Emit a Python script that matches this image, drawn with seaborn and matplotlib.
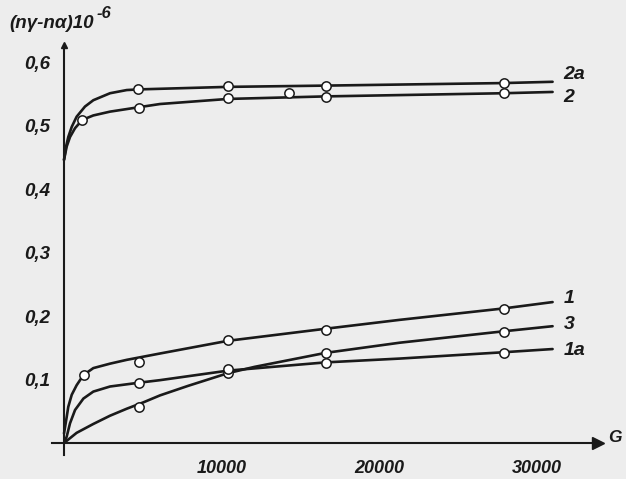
import numpy as np
import pandas as pd
import matplotlib
matplotlib.use("Agg")
import matplotlib.pyplot as plt
import seaborn as sns

# Smooth curves: G (field) and (n_gamma - n_alpha) * 1e6
G_2A = [0, 130, 270, 490, 800, 1330, 1860, 2920, 3980, 4700, 10400, 16600, 27900, 31000]
V_2A = [0.446, 0.467, 0.482, 0.498, 0.514, 0.530, 0.540, 0.551, 0.556, 0.557,
        0.561, 0.563, 0.567, 0.569]

G_2 = [0, 170, 380, 700, 1160, 1860, 2920, 4760, 6090, 10400, 16600, 27900, 31000]
V_2 = [0.446, 0.467, 0.482, 0.496, 0.509, 0.516, 0.522, 0.529, 0.534, 0.542,
       0.546, 0.551, 0.553]

G_1 = [0, 170, 270, 490, 800, 1230, 1860, 2920, 3980, 6090, 10400, 16600, 21300, 27900, 31000]
V_1 = [0.015, 0.041, 0.057, 0.076, 0.091, 0.107, 0.118, 0.125, 0.131, 0.141,
       0.161, 0.180, 0.194, 0.212, 0.222]

G_3 = [0, 800, 1860, 2920, 3980, 5030, 6090, 7870, 10400, 12100, 16600, 21300, 27900, 31000]
V_3 = [0.0, 0.016, 0.030, 0.043, 0.054, 0.064, 0.075, 0.090, 0.110, 0.120,
       0.142, 0.158, 0.176, 0.184]

G_1A = [0, 170, 380, 700, 1230, 1860, 2920, 4760, 6090, 10400, 16600, 21300, 27900, 31000]
V_1A = [0.0, 0.010, 0.031, 0.052, 0.070, 0.081, 0.089, 0.095, 0.099, 0.114,
        0.127, 0.133, 0.143, 0.148]

# Measured points (open circles)
P2A_G = [4700, 10400, 16600, 27900]
P2A_V = [0.557, 0.562, 0.562, 0.567]
P2_G = [1150, 4760, 10400, 14280, 16600, 27900]
P2_V = [0.509, 0.528, 0.543, 0.551, 0.545, 0.551]
P1_G = [1270, 4760, 10400, 16600, 27900]
P1_V = [0.107, 0.128, 0.162, 0.178, 0.211]
P3_G = [4760, 10400, 16600, 27900]
P3_V = [0.057, 0.111, 0.142, 0.175]
P1A_G = [4760, 10400, 16600, 27900]
P1A_V = [0.094, 0.117, 0.126, 0.142]

CURVE_LABELS = ["2a", "2", "1", "3", "1a"]
LABEL_V = [0.581, 0.545, 0.227, 0.186, 0.146]

Y_TICKS = [0.1, 0.2, 0.3, 0.4, 0.5, 0.6]
Y_TICKLABELS = ["0,1", "0,2", "0,3", "0,4", "0,5", "0,6"]
X_TICKS = [5000, 10000, 15000, 20000, 25000, 30000]
X_TICKLABELS = ["", "10000", "", "20000", "", "30000"]

sns.set_theme(style="white")
plt.rcParams["font.family"] = ["Liberation Sans", "DejaVu Sans"]

ink = "#1a1a1a"
paper = "#ededed"
fig = plt.figure(figsize=(6.26, 4.79), dpi=100, facecolor=paper)
ax = fig.add_axes([0.0831, 0.0501, 0.8914, 0.856], facecolor=paper)

curves = [(G_2A, V_2A), (G_2, V_2), (G_1, V_1), (G_3, V_3), (G_1A, V_1A)]
points = [(P2A_G, P2A_V), (P2_G, P2_V), (P1_G, P1_V), (P3_G, P3_V), (P1A_G, P1A_V)]

for g, v in curves:
    sns.lineplot(x=g, y=v, ax=ax, color=ink, linewidth=1.9,
                 estimator=None, sort=False)
for g, v in points:
    sns.scatterplot(x=g, y=v, ax=ax, s=45, facecolor="white",
                    edgecolor=ink, linewidth=1.1, zorder=5)

ax.set_xlim(-761, 34645)
ax.set_ylim(-0.0189, 0.627)

for side in ["top", "right"]:
    ax.spines[side].set_visible(False)
ax.spines["left"].set_position(("data", 0))
ax.spines["bottom"].set_position(("data", 0))
ax.spines["bottom"].set_bounds(-761, 34000)
for side in ["left", "bottom"]:
    ax.spines[side].set_color(ink)
    ax.spines[side].set_linewidth(1.5)

# arrow heads on the axes
ax.plot(0.978, 0, ">", color=ink, markersize=8,
        transform=ax.get_yaxis_transform(), clip_on=False)
ax.plot(0, 1, "^", color=ink, markersize=5,
        transform=ax.get_xaxis_transform(), clip_on=False)

ax.set_xticks(X_TICKS)
ax.set_xticklabels(X_TICKLABELS)
ax.set_yticks(Y_TICKS)
ax.set_yticklabels(Y_TICKLABELS)
ax.tick_params(direction="out", length=4, width=1.2, color=ink,
               labelsize=13.5, labelcolor=ink, pad=6)
ax.tick_params(axis="x", pad=8, labelsize=13)
for lab in ax.get_xticklabels() + ax.get_yticklabels():
    lab.set_fontstyle("italic")
    lab.set_fontweight("bold")
ax.set_xlabel("")
ax.set_ylabel("")

for lab, v in zip(CURVE_LABELS, LABEL_V):
    ax.text(31700, v, lab, ha="left", va="center", fontsize=14,
            fontstyle="italic", fontweight="bold", color=ink)

ax.text(34950, 0.008, "G", ha="center", va="center", fontsize=12.5,
        fontstyle="italic", fontweight="bold", color=ink, clip_on=False)

fig.text(9 / 626, 1 - 24 / 479, "(nγ-nα)10", ha="left", va="center",
         fontsize=13.5, fontstyle="italic", fontweight="bold", color=ink)
fig.text(97 / 626, 1 - 13 / 479, "-6", ha="left", va="center",
         fontsize=12, fontstyle="italic", fontweight="bold", color=ink)

fig.savefig("out.png", dpi=100, facecolor=paper)
